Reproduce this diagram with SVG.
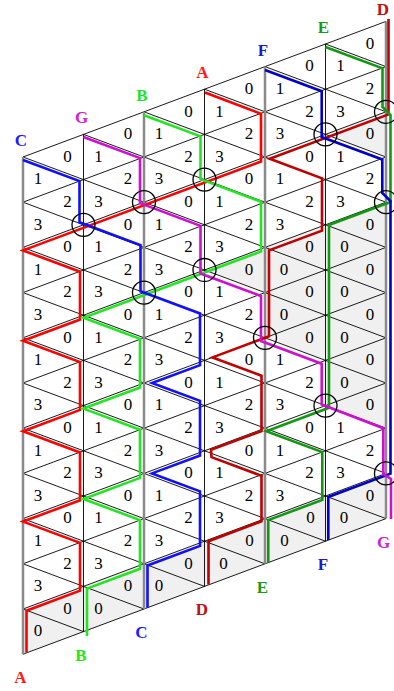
<svg xmlns="http://www.w3.org/2000/svg" width="394" height="691" viewBox="0 0 394 691">
<style>
.lat{stroke:#000;stroke-width:0.9;fill:none}
.bd{stroke:#8a8a8a;stroke-width:2.5}
.sh{fill:#f0f0f0;stroke:none}
.n{font-family:"Liberation Serif",serif;font-size:17px;text-anchor:middle;fill:#000}
.L{font-family:"Liberation Serif",serif;font-size:17px;font-weight:bold;text-anchor:middle}
.p{fill:none;stroke-width:2.6;stroke-linejoin:miter;stroke-miterlimit:10}
.c{fill:none;stroke:#000;stroke-width:1.3}
</style>
<rect width="394" height="691" fill="#fff"/>
<g id="shading">
<polygon class="sh" points="325.5,134.4 386,111.8 386,157"/>
<polygon class="sh" points="204.5,270 265,247.4 265,292.6"/>
<polygon class="sh" points="265,247.4 325.5,224.8 325.5,360.4 265,337.8"/>
<polygon class="sh" points="325.5,224.8 386,202.2 386,428.2 325.5,405.6"/>
<polygon class="sh" points="23,609 386,473.4 386,518.6 23,654.2"/>
</g>
<g id="lattice" class="lat">
<path d="M23,157L386,21.4M23,202.2L386,66.6M23,247.4L386,111.8M23,292.6L386,157M23,337.8L386,202.2M23,383L386,247.4M23,428.2L386,292.6M23,473.4L386,337.8M23,518.6L386,383M23,563.8L386,428.2M23,609L386,473.4M23,654.2L386,518.6"/>
<path d="M325.5,44L386,66.6M265,66.6L386,111.8M204.5,89.2L386,157M144,111.8L386,202.2M83.5,134.4L386,247.4M23,157L386,292.6M23,202.2L386,337.8M23,247.4L386,383M23,292.6L386,428.2M23,337.8L386,473.4M23,383L386,518.6M23,428.2L325.5,541.2M23,473.4L265,563.8M23,518.6L204.5,586.4M23,563.8L144,609M23,609L83.5,631.6"/>
<path d="M83.5,134.4V631.6M204.5,89.2V586.4M325.5,44V541.2"/>
</g>
<g id="borders" class="bd">
<path d="M23,157V654.2M144,111.8V609M265,66.6V563.8M386,21.4V518.6"/>
</g>
<g id="numbers" class="n">
<text x="67.5" y="161.8">0</text><text x="67.5" y="207">2</text><text x="67.5" y="252.2">0</text><text x="67.5" y="297.4">2</text><text x="67.5" y="342.6">0</text><text x="67.5" y="387.8">2</text><text x="67.5" y="433">0</text><text x="67.5" y="478.2">2</text><text x="67.5" y="523.4">0</text><text x="67.5" y="568.6">2</text><text x="67.5" y="613.8">0</text>
<text x="38" y="184.4">1</text><text x="38" y="229.6">3</text><text x="38" y="274.8">1</text><text x="38" y="320">3</text><text x="38" y="365.2">1</text><text x="38" y="410.4">3</text><text x="38" y="455.6">1</text><text x="38" y="500.8">3</text><text x="38" y="546">1</text><text x="38" y="591.2">3</text><text x="38" y="636.4">0</text>
<text x="128" y="139.2">0</text><text x="128" y="184.4">2</text><text x="128" y="229.6">0</text><text x="128" y="274.8">2</text><text x="128" y="320">0</text><text x="128" y="365.2">2</text><text x="128" y="410.4">0</text><text x="128" y="455.6">2</text><text x="128" y="500.8">0</text><text x="128" y="546">2</text><text x="128" y="591.2">0</text>
<text x="98.5" y="161.8">1</text><text x="98.5" y="207">3</text><text x="98.5" y="252.2">1</text><text x="98.5" y="297.4">3</text><text x="98.5" y="342.6">1</text><text x="98.5" y="387.8">3</text><text x="98.5" y="433">1</text><text x="98.5" y="478.2">3</text><text x="98.5" y="523.4">1</text><text x="98.5" y="568.6">3</text><text x="98.5" y="613.8">0</text>
<text x="188.5" y="116.6">0</text><text x="188.5" y="161.8">2</text><text x="188.5" y="207">0</text><text x="188.5" y="252.2">2</text><text x="188.5" y="297.4">0</text><text x="188.5" y="342.6">2</text><text x="188.5" y="387.8">0</text><text x="188.5" y="433">2</text><text x="188.5" y="478.2">0</text><text x="188.5" y="523.4">2</text><text x="188.5" y="568.6">0</text>
<text x="159" y="139.2">1</text><text x="159" y="184.4">3</text><text x="159" y="229.6">1</text><text x="159" y="274.8">3</text><text x="159" y="320">1</text><text x="159" y="365.2">3</text><text x="159" y="410.4">1</text><text x="159" y="455.6">3</text><text x="159" y="500.8">1</text><text x="159" y="546">3</text><text x="159" y="591.2">0</text>
<text x="249" y="94">0</text><text x="249" y="139.2">2</text><text x="249" y="184.4">0</text><text x="249" y="229.6">2</text><text x="249" y="274.8">0</text><text x="249" y="320">2</text><text x="249" y="365.2">0</text><text x="249" y="410.4">2</text><text x="249" y="455.6">0</text><text x="249" y="500.8">2</text><text x="249.5" y="546">0</text>
<text x="219.5" y="116.6">1</text><text x="219.5" y="161.8">3</text><text x="219.5" y="207">1</text><text x="219.5" y="252.2">3</text><text x="219.5" y="297.4">1</text><text x="219.5" y="342.6">3</text><text x="219.5" y="387.8">1</text><text x="219.5" y="433">3</text><text x="219.5" y="478.2">1</text><text x="219.5" y="523.4">3</text><text x="223.5" y="568.6">0</text>
<text x="309.5" y="71.4">0</text><text x="309.5" y="116.6">2</text><text x="309.5" y="161.8">0</text><text x="309.5" y="207">2</text><text x="309.5" y="252.2">0</text><text x="309.5" y="297.4">0</text><text x="309.5" y="342.6">0</text><text x="309.5" y="387.8">2</text><text x="309.5" y="433">0</text><text x="309.5" y="478.2">2</text><text x="310.5" y="523.4">0</text>
<text x="280" y="94">1</text><text x="280" y="139.2">3</text><text x="280" y="184.4">1</text><text x="280" y="229.6">3</text><text x="284" y="274.8">0</text><text x="284" y="320">0</text><text x="280" y="365.2">1</text><text x="280" y="410.4">3</text><text x="280" y="455.6">1</text><text x="280" y="500.8">3</text><text x="284.5" y="546">0</text>
<text x="370" y="48.8">0</text><text x="370" y="94">2</text><text x="370" y="139.2">0</text><text x="370" y="184.4">2</text><text x="370" y="229.6">0</text><text x="370" y="274.8">0</text><text x="370" y="320">0</text><text x="370" y="365.2">0</text><text x="370" y="410.4">0</text><text x="370" y="455.6">2</text><text x="370" y="500.8">0</text>
<text x="340.5" y="71.4">1</text><text x="340.5" y="116.6">3</text><text x="340.5" y="161.8">1</text><text x="340.5" y="207">3</text><text x="344.5" y="252.2">0</text><text x="344.5" y="297.4">0</text><text x="344.5" y="342.6">0</text><text x="344.5" y="387.8">0</text><text x="340.5" y="433">1</text><text x="340.5" y="478.2">3</text><text x="344" y="523.4">0</text>
</g>
<g id="connectors">
<path id="path-A" class="p" stroke="#ff0000" d="M205,92.5L261,113.8L261,161.5L23,250.4L80,271.7L80,319.5L23,340.8L80,362.1L80,409.9L23,431.2L80,452.5L80,500.3L23,521.6L80,542.9L80,590.7L26.5,610.7L26.5,652.5"/>
<path id="path-B" class="p" stroke="#22e622" d="M144,115.3L200.5,136.4L200.5,179.1L261,201.7L261,251.4L83.5,317.7L140,338.8L140,387.5L83.5,408.6L140,429.7L140,477.9L83.5,499L140,520.1L140,568.8L87,588.6L87,636"/>
<path id="path-C" class="p" stroke="#1010ff" d="M23,160L79.5,181.1L79.5,222.3L140.5,245.1L140.5,291.3L200,313.5L200,365.1L152,383L200,400.9L200,455.5L152,473.4L200,491.3L200,545.9L147.5,565.5L147.5,607.7"/>
<path id="path-D" class="p" stroke="#c00000" d="M388.5,19L388.5,114.4L269.7,158.8L322,178.3L322,230.6L269,250.4L269,336.3L212.5,357.4L261.5,375.7L261.5,431L211,449.9L211.5,457.1L261.5,475.8L261.5,521.3L208.5,541.2L208.5,584.5"/>
<path id="path-E" class="p" stroke="#119911" d="M325.5,47L382.5,68.3L382.5,107L390.5,115L390.5,202L329,225L329,407.8L266.3,431.2L322.3,452.1L322.3,499.9L268.3,520.1L268.3,562.5"/>
<path id="path-F" class="p" stroke="#0000c8" d="M265,70L321.7,91.2L321.7,137L382.3,159.5L382.3,193L390.5,201L390.5,473.7L328.3,497L328.3,540"/>
<path id="path-G" class="p" stroke="#d010d0" d="M83.5,137L140,158.1L140,203.2L200.5,225.8L200.5,273.5L261,296.1L261,341L321.7,363.7L321.7,404.5L383.3,428.2L383.3,474L391,479L391,519"/>
</g>
<g id="crossings" class="c">
<circle cx="204.5" cy="179.6" r="11.5"/><circle cx="144" cy="202.2" r="11.5"/><circle cx="83.5" cy="224.8" r="11.5"/><circle cx="325.5" cy="134.4" r="11.5"/><circle cx="386" cy="111.8" r="11.5"/><circle cx="386" cy="202.2" r="11.5"/><circle cx="204.5" cy="270" r="11.5"/><circle cx="144" cy="292.6" r="11.5"/><circle cx="265" cy="337.8" r="11.5"/><circle cx="325.5" cy="405.6" r="11.5"/><circle cx="386" cy="473.4" r="11.5"/>
</g>
<g id="top-labels" class="L">
<text x="21" y="146" fill="#1a1aff">C</text><text x="81.5" y="123.4" fill="#d020d0">G</text><text x="142" y="100.8" fill="#22e622">B</text><text x="202.5" y="78.2" fill="#ff1a1a">A</text><text x="263" y="55.6" fill="#1a1acc">F</text><text x="323.5" y="33" fill="#1a9a1a">E</text><text x="383" y="15" fill="#c01010">D</text>
</g>
<g id="bottom-labels" class="L">
<text x="20.5" y="683.2" fill="#ff1a1a">A</text><text x="81" y="660.6" fill="#22e622">B</text><text x="141.5" y="638" fill="#1a1aff">C</text><text x="202" y="615.4" fill="#c01010">D</text><text x="262.5" y="592.8" fill="#1a9a1a">E</text><text x="323" y="570.2" fill="#1a1acc">F</text><text x="383.5" y="547.6" fill="#d020d0">G</text>
</g>
</svg>
